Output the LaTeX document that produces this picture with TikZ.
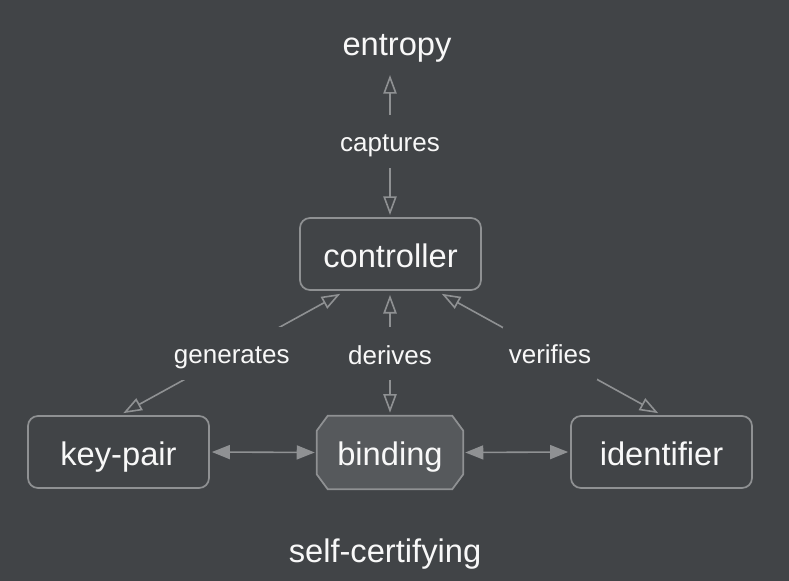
\documentclass[tikz,border=0pt]{standalone}
\usepackage{fontspec}
\setmainfont{Liberation Sans}
\usetikzlibrary{arrows.meta,calc}
\definecolor{bg}{HTML}{414447}
\definecolor{edge}{HTML}{8F9193}
\definecolor{bindfill}{HTML}{56595C}
\definecolor{txt}{HTML}{F8F8F8}
\tikzset{
  bigtext/.style={text=txt, font=\fontsize{24.5}{28}\selectfont, text height=19.6pt, text depth=0pt},
  box/.style={bigtext, draw=edge, line width=1.3pt, rounded corners=7.5pt, minimum width=135.75pt, minimum height=54pt, inner sep=0pt},
  bindbox/.style={bigtext, minimum width=109.5pt, minimum height=54.75pt, inner sep=0pt},
  chamfer/.style={draw=edge, fill=bindfill, line width=1.3pt},
  plain/.style={bigtext, inner sep=2pt},
  lbl/.style={text=txt, fill=bg, font=\fontsize{19.5}{23}\selectfont, text height=15.6pt, text depth=0pt, inner xsep=4pt, inner ysep=12pt},
  hollow/.style={draw=edge, line width=1.2pt, {Triangle[open,length=14pt,width=10pt]}-{Triangle[open,length=14pt,width=10pt]}, shorten <=1.5pt, shorten >=1.5pt},
  solid2/.style={draw=edge, line width=1.2pt, {Triangle[length=13.5pt,width=10.5pt]}-{Triangle[length=13.5pt,width=10.5pt]}, shorten <=1.5pt, shorten >=1.5pt},
}
\begin{document}
\begin{tikzpicture}[x=0.75pt,y=-0.75pt]
\fill[bg] (0,0) rectangle (789,581);
\useasboundingbox (0,0) rectangle (789,581);
\node[plain] (entropy) at (397,42) {entropy};
\node[box] (ctrl) at (390.5,254) {controller};
\node[box] (kp) at (118.5,452) {key-pair};
\node[bindbox] (bind) at (390,452.5) {};
\draw[chamfer] ($(bind.north west)+(11,0)$) -- ($(bind.north east)+(-11,0)$) -- ($(bind.north east)+(0,15)$) -- ($(bind.south east)+(0,-15)$) -- ($(bind.south east)+(-11,0)$) -- ($(bind.south west)+(11,0)$) -- ($(bind.south west)+(0,-15)$) -- ($(bind.north west)+(0,15)$) -- cycle;
\node[bigtext] (bindtxt) at (bind.center) {binding};
\node[box] (id) at (661.5,452) {identifier};
\node[plain] (self) at (385,549) {self-certifying};
\coordinate (entb) at (390,73);
\coordinate (ctop) at (390,217);
\coordinate (cl) at ($(ctrl.south)+(-48.5,2)$);
\coordinate (cr) at ($(ctrl.south)+(49.5,2)$);
\coordinate (cm) at ($(ctrl.south)+(-0.5,2)$);
\coordinate (kpt) at ($(kp.north)+(3,-1)$);
\coordinate (idt) at ($(id.north)+(-1.5,-1)$);
\coordinate (bt) at ($(bind.north)+(0,-1)$);
\draw[hollow] (entb) -- node[lbl,pos=0.475] (lcap) {captures} (ctop);
\draw[hollow] (cl) -- node[lbl] (lgen) {generates} (kpt);
\draw[hollow] (cm) -- node[lbl] (lder) {derives} (bt);
\draw[hollow] (cr) -- node[lbl] (lver) {verifies} (idt);
\draw[solid2] (kp.east) -- (bind.west);
\draw[solid2] (bind.east) -- (id.west);
\end{tikzpicture}
\end{document}
